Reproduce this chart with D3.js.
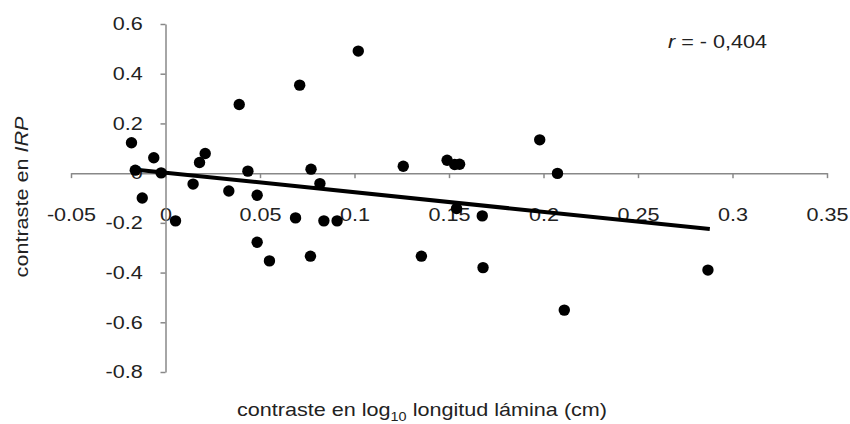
<!DOCTYPE html>
<html>
<head>
<meta charset="utf-8">
<title>contraste</title>
<script src="https://d3js.org/d3.v7.min.js"></script>
<style>
  body { margin: 0; background: #fff; }
  text { font-family: "Liberation Sans", Arial, sans-serif; fill: #222; }
  .axis path, .axis line { stroke: #888; stroke-width: 1.5; }
</style>
</head>
<body>
<script>
// values
var xs = [-0.018, -0.016, -0.0123, -0.0062, -0.0023, 0.0053, 0.0146, 0.018, 0.021, 0.0335,
          0.039, 0.0436, 0.0485, 0.0485, 0.055, 0.0688, 0.071, 0.0767, 0.077, 0.0817,
          0.0838, 0.0908, 0.102, 0.1258, 0.1354, 0.149, 0.153, 0.1556, 0.154, 0.1676,
          0.168, 0.198, 0.2074, 0.211, 0.287];
var ys = [0.122, 0.012, -0.100, 0.062, 0.001, -0.192, -0.044, 0.043, 0.079, -0.072,
          0.276, 0.008, -0.089, -0.278, -0.353, -0.180, 0.354, -0.334, 0.016, -0.042,
          -0.192, -0.192, 0.491, 0.028, -0.334, 0.052, 0.035, 0.036, -0.142, -0.172,
          -0.380, 0.134, -0.001, -0.551, -0.390];
var trendX = [-0.018, 0.288];
var trendY = [0.016, -0.225];
var xTicks = [-0.05, 0, 0.05, 0.1, 0.15, 0.2, 0.25, 0.3, 0.35];
var xTickLabels = ['-0.05', '0', '0.05', '0.1', '0.15', '0.2', '0.25', '0.3', '0.35'];
var yTicks = [-0.8, -0.6, -0.4, -0.2, 0, 0.2, 0.4, 0.6];
var yTickLabels = ['-0.8', '-0.6', '-0.4', '-0.2', '0', '0.2', '0.4', '0.6'];

var width = 850, height = 424, sx = 1.2;

var x = d3.scaleLinear().domain([-0.05, 0.35]).range([71, 827]);
var y = d3.scaleLinear().domain([-0.8, 0.6]).range([372, 24]);

var svg = d3.select('body').append('svg')
    .attr('width', width)
    .attr('height', height);

// axes
var gx = svg.append('g')
    .attr('class', 'axis')
    .attr('transform', `translate(0,${y(0)})`)
    .call(d3.axisBottom(x).tickValues(xTicks).tickSize(5).tickSizeOuter(0)
        .tickFormat((d, i) => xTickLabels[i]));
gx.selectAll('text')
    .attr('y', 35)
    .attr('transform', `scale(${sx},1)`)
    .style('font-size', '18px').style('fill', '#222');

var gy = svg.append('g')
    .attr('class', 'axis')
    .attr('transform', `translate(${x(0)},0)`)
    .call(d3.axisLeft(y).tickValues(yTicks).tickSize(5).tickSizeOuter(0)
        .tickFormat((d, i) => yTickLabels[i]));
gy.selectAll('text')
    .attr('x', -19)
    .attr('transform', `scale(${sx},1)`)
    .style('font-size', '18px').style('fill', '#222');
svg.selectAll('.axis').attr('font-family', null).attr('font-size', null);

// points
svg.append('g').selectAll('circle')
    .data(xs)
    .enter()
    .append('circle')
    .attr('cx', d => x(d))
    .attr('cy', (d, i) => y(ys[i]))
    .attr('r', 5.7)
    .attr('fill', '#000');

// trendline
svg.append('line')
    .attr('x1', x(trendX[0])).attr('y1', y(trendY[0]))
    .attr('x2', x(trendX[1])).attr('y2', y(trendY[1]))
    .attr('stroke', '#000')
    .attr('stroke-width', 4);

// r label
var rt = svg.append('text')
    .attr('transform', `translate(668,48) scale(${sx},1)`)
    .style('font-size', '18px');
rt.append('tspan').style('font-style', 'italic').text('r');
rt.append('tspan').text(' = - 0,404');

// axis titles
var tx = svg.append('text')
    .attr('transform', `translate(422,416) scale(${sx},1)`)
    .attr('text-anchor', 'middle')
    .style('font-size', '18px');
tx.append('tspan').text('contraste en log');
tx.append('tspan').attr('dy', 5).style('font-size', '12px').text('10');
tx.append('tspan').attr('dy', -5).text(' longitud lámina (cm)');

var ty = svg.append('text')
    .attr('transform', `translate(28,197) rotate(-90) scale(${sx},1)`)
    .attr('text-anchor', 'middle')
    .style('font-size', '18px');
ty.append('tspan').text('contraste en ');
ty.append('tspan').style('font-style', 'italic').text('IRP');
</script>
</body>
</html>
